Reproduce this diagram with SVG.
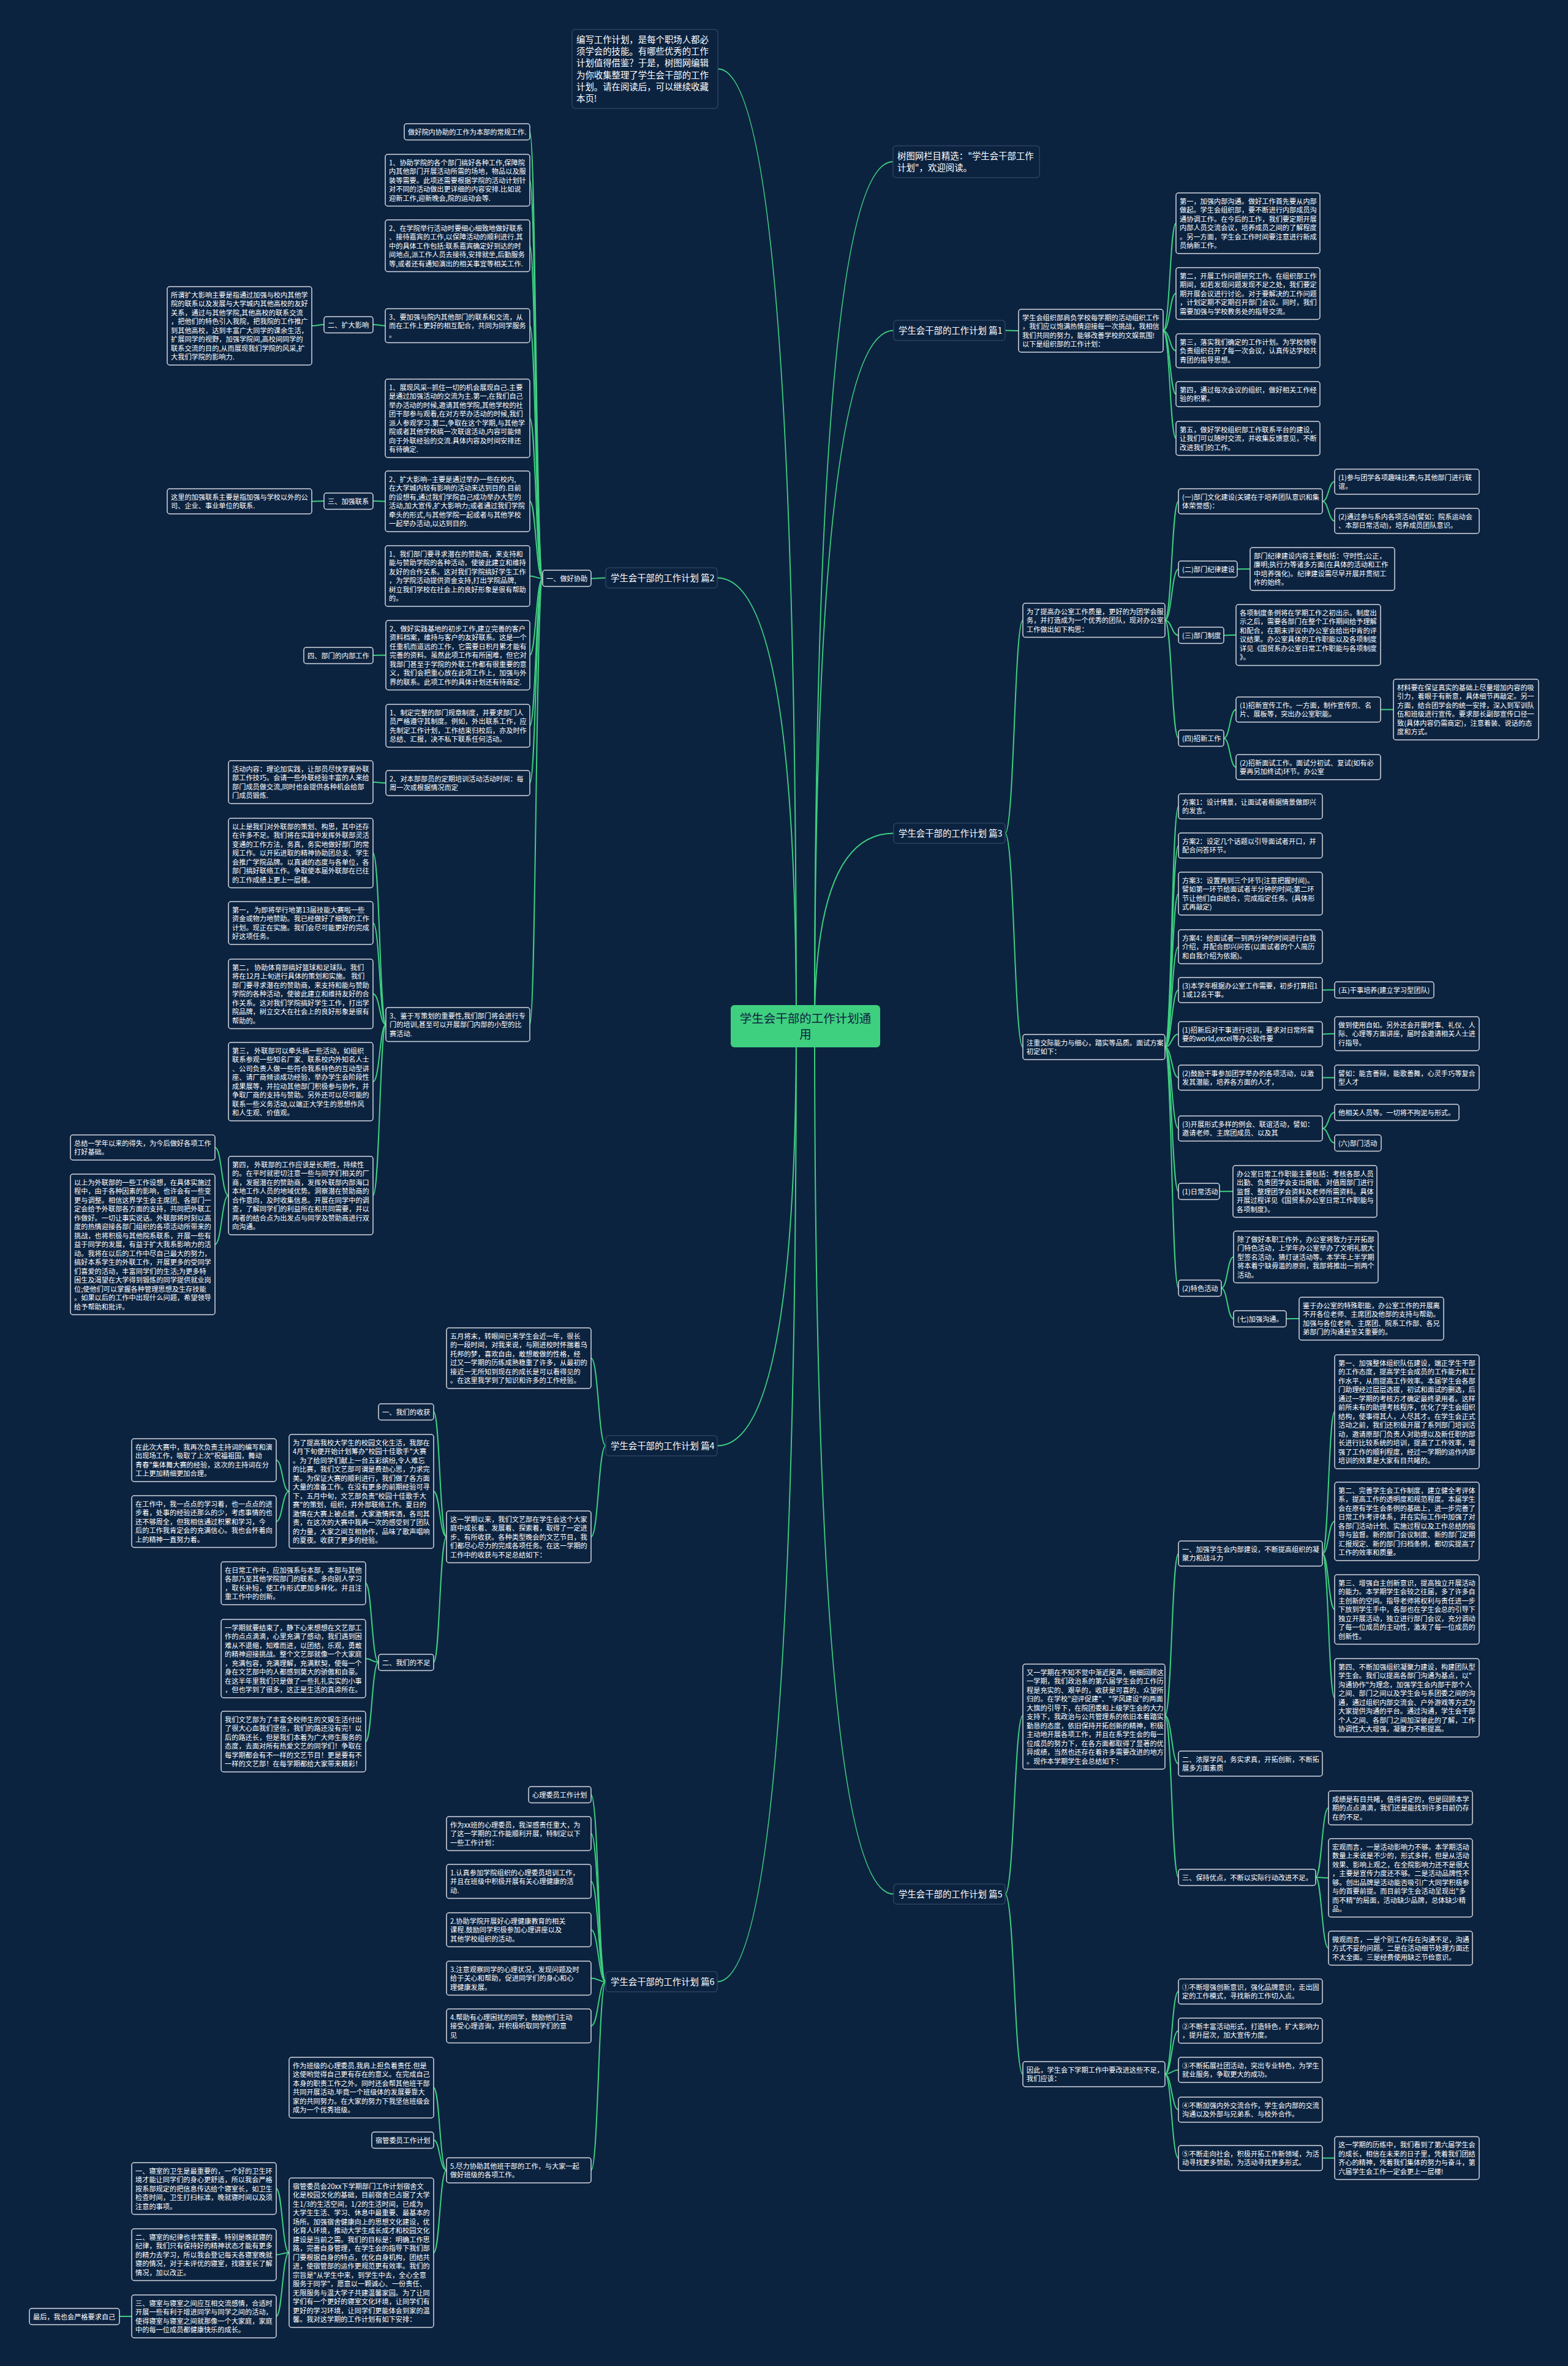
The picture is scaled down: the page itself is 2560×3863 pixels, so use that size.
<svg xmlns="http://www.w3.org/2000/svg" width="2560" height="3863" viewBox="0 0 2560 3863">
<style>
.n rect{fill:#0c2340;stroke:#d3d8df;stroke-width:1.5}
.n text{font-family:"Noto Sans CJK SC","Noto Sans",sans-serif;font-size:11.2px;fill:#ffffff}
.m rect{fill:#0c2340;stroke:#2c4260;stroke-width:1.5}
.m text{font-family:"Noto Sans CJK SC","Noto Sans",sans-serif;font-size:14.4px;fill:#ffffff}
.c path{fill:none;stroke:#3ecf7f;stroke-width:2}
</style>
<rect x="0" y="0" width="2560" height="3863" fill="#0c2340"/>
<g id="connectors" class="c">
<path d="M1300,1675 Q1300,112.5 1172,112.5"/>
<path d="M1330,1675 Q1330,264 1458,264"/>
<path d="M1330,1675 Q1330,539.5 1459,539.5"/>
<path d="M1330,1675 Q1330,1360.5 1459,1360.5"/>
<path d="M1330,1675 Q1330,3092.5 1459,3092.5"/>
<path d="M1300,1675 Q1300,943.5 1171,943.5"/>
<path d="M1300,1675 Q1300,2360.5 1171,2360.5"/>
<path d="M1300,1675 Q1300,3235.5 1171,3235.5"/>
<path d="M1641,539.5 C1652,539.5 1652,540 1663,540"/>
<path d="M1899,540 C1910,540 1910,364.5 1920,364.5"/>
<path d="M1899,540 C1910,540 1910,479 1920,479"/>
<path d="M1899,540 C1910,540 1910,572.7 1920,572.7"/>
<path d="M1899,540 C1910,540 1910,643.5 1920,643.5"/>
<path d="M1899,540 C1910,540 1910,715.7 1920,715.7"/>
<path d="M1641,1360.5 C1656,1360.5 1656,1012.7 1670,1012.7"/>
<path d="M1641,1360.5 C1656,1360.5 1656,1709.5 1670,1709.5"/>
<path d="M1902,1012.7 C1913,1012.7 1913,818.5 1924,818.5"/>
<path d="M1902,1012.7 C1913,1012.7 1913,929.2 1924,929.2"/>
<path d="M1902,1012.7 C1913,1012.7 1913,1037.2 1924,1037.2"/>
<path d="M1902,1012.7 C1913,1012.7 1913,1205.2 1924,1205.2"/>
<path d="M2159,818.5 C2169,818.5 2169,786.5 2179,786.5"/>
<path d="M2159,818.5 C2169,818.5 2169,850.5 2179,850.5"/>
<path d="M2020,929.2 C2030,929.2 2030,929 2041,929"/>
<path d="M1998,1037.2 C2008,1037.2 2008,1036.7 2018,1036.7"/>
<path d="M1998,1205.2 C2008,1205.2 2008,1158.5 2018,1158.5"/>
<path d="M1998,1205.2 C2008,1205.2 2008,1252.5 2018,1252.5"/>
<path d="M2254,1158.5 C2264,1158.5 2264,1158.5 2275,1158.5"/>
<path d="M1902,1709.5 C1913,1709.5 1913,1316.5 1924,1316.5"/>
<path d="M1902,1709.5 C1913,1709.5 1913,1380.5 1924,1380.5"/>
<path d="M1902,1709.5 C1913,1709.5 1913,1459 1924,1459"/>
<path d="M1902,1709.5 C1913,1709.5 1913,1545.7 1924,1545.7"/>
<path d="M1902,1709.5 C1913,1709.5 1913,1616.5 1924,1616.5"/>
<path d="M1902,1709.5 C1913,1709.5 1913,1688.5 1924,1688.5"/>
<path d="M1902,1709.5 C1913,1709.5 1913,1759.5 1924,1759.5"/>
<path d="M1902,1709.5 C1913,1709.5 1913,1842.5 1924,1842.5"/>
<path d="M1902,1709.5 C1913,1709.5 1913,1945.2 1924,1945.2"/>
<path d="M1902,1709.5 C1913,1709.5 1913,2103.2 1924,2103.2"/>
<path d="M2159,1616.5 C2169,1616.5 2169,1616.2 2179,1616.2"/>
<path d="M2159,1688.5 C2169,1688.5 2169,1687.7 2179,1687.7"/>
<path d="M2159,1759.5 C2169,1759.5 2169,1759.5 2179,1759.5"/>
<path d="M2159,1842.5 C2169,1842.5 2169,1816.2 2179,1816.2"/>
<path d="M2159,1842.5 C2169,1842.5 2169,1866.2 2179,1866.2"/>
<path d="M1991,1945.2 C2002,1945.2 2002,1945.2 2013,1945.2"/>
<path d="M1994,2103.2 C2004,2103.2 2004,2052.2 2014,2052.2"/>
<path d="M1994,2103.2 C2004,2103.2 2004,2153.2 2014,2153.2"/>
<path d="M2100,2153.2 C2110,2153.2 2110,2153 2121,2153"/>
<path d="M1641,3092.5 C1656,3092.5 1656,2801 1670,2801"/>
<path d="M1641,3092.5 C1656,3092.5 1656,3386.5 1670,3386.5"/>
<path d="M1902,2801 C1913,2801 1913,2536.7 1924,2536.7"/>
<path d="M1902,2801 C1913,2801 1913,2879.7 1924,2879.7"/>
<path d="M1902,2801 C1913,2801 1913,3065 1924,3065"/>
<path d="M2159,2536.7 C2169,2536.7 2169,2305 2179,2305"/>
<path d="M2159,2536.7 C2169,2536.7 2169,2484 2179,2484"/>
<path d="M2159,2536.7 C2169,2536.7 2169,2627.7 2179,2627.7"/>
<path d="M2159,2536.7 C2169,2536.7 2169,2772 2179,2772"/>
<path d="M2148,3065 C2158,3065 2158,2951.7 2169,2951.7"/>
<path d="M2148,3065 C2158,3065 2158,3066 2169,3066"/>
<path d="M2148,3065 C2158,3065 2158,3180.7 2169,3180.7"/>
<path d="M1902,3386.5 C1913,3386.5 1913,3251.5 1924,3251.5"/>
<path d="M1902,3386.5 C1913,3386.5 1913,3315.5 1924,3315.5"/>
<path d="M1902,3386.5 C1913,3386.5 1913,3379.5 1924,3379.5"/>
<path d="M1902,3386.5 C1913,3386.5 1913,3444.5 1924,3444.5"/>
<path d="M1902,3386.5 C1913,3386.5 1913,3523.5 1924,3523.5"/>
<path d="M2159,3523.5 C2169,3523.5 2169,3523.5 2179,3523.5"/>
<path d="M989,943.5 C977,943.5 977,944.5 965,944.5"/>
<path d="M886,944.5 C875,944.5 875,215 865,215"/>
<path d="M886,944.5 C875,944.5 875,294.2 865,294.2"/>
<path d="M886,944.5 C875,944.5 875,401.2 865,401.2"/>
<path d="M886,944.5 C875,944.5 875,531.7 865,531.7"/>
<path d="M886,944.5 C875,944.5 875,683 865,683"/>
<path d="M886,944.5 C875,944.5 875,818.5 865,818.5"/>
<path d="M886,944.5 C875,944.5 875,940.5 865,940.5"/>
<path d="M886,944.5 C875,944.5 875,1069.7 865,1069.7"/>
<path d="M886,944.5 C875,944.5 875,1185 865,1185"/>
<path d="M886,944.5 C875,944.5 875,1278.5 865,1278.5"/>
<path d="M886,944.5 C875,944.5 875,1673 865,1673"/>
<path d="M629,531.7 C619,531.7 619,530 609,530"/>
<path d="M529,530 C519,530 519,532 509,532"/>
<path d="M629,818.5 C619,818.5 619,818 609,818"/>
<path d="M529,818 C519,818 519,818.5 509,818.5"/>
<path d="M630,1069.7 C620,1069.7 620,1070 609,1070"/>
<path d="M630,1278.5 C620,1278.5 620,1277 609,1277"/>
<path d="M630,1673 C620,1673 620,1392.7 609,1392.7"/>
<path d="M630,1673 C620,1673 620,1507 609,1507"/>
<path d="M630,1673 C620,1673 620,1622.7 609,1622.7"/>
<path d="M630,1673 C620,1673 620,1766 609,1766"/>
<path d="M630,1673 C620,1673 620,1952 609,1952"/>
<path d="M373,1952 C362,1952 362,1873.5 351,1873.5"/>
<path d="M373,1952 C362,1952 362,2031.7 351,2031.7"/>
<path d="M989,2360.5 C977,2360.5 977,2217.5 965,2217.5"/>
<path d="M989,2360.5 C977,2360.5 977,2509.2 965,2509.2"/>
<path d="M729,2509.2 C718,2509.2 718,2305 708,2305"/>
<path d="M729,2509.2 C718,2509.2 718,2435 708,2435"/>
<path d="M729,2509.2 C718,2509.2 718,2714 708,2714"/>
<path d="M472,2435 C461,2435 461,2384 451,2384"/>
<path d="M472,2435 C461,2435 461,2484.2 451,2484.2"/>
<path d="M618,2714 C607,2714 607,2585 597,2585"/>
<path d="M618,2714 C607,2714 607,2708 597,2708"/>
<path d="M618,2714 C607,2714 607,2843.5 597,2843.5"/>
<path d="M989,3235.5 C977,3235.5 977,2930.5 965,2930.5"/>
<path d="M989,3235.5 C977,3235.5 977,2993.7 965,2993.7"/>
<path d="M989,3235.5 C977,3235.5 977,3071.7 965,3071.7"/>
<path d="M989,3235.5 C977,3235.5 977,3150.7 965,3150.7"/>
<path d="M989,3235.5 C977,3235.5 977,3229.7 965,3229.7"/>
<path d="M989,3235.5 C977,3235.5 977,3307.7 965,3307.7"/>
<path d="M989,3235.5 C977,3235.5 977,3543.5 965,3543.5"/>
<path d="M729,3543.5 C718,3543.5 718,3408.5 708,3408.5"/>
<path d="M729,3543.5 C718,3543.5 718,3494 708,3494"/>
<path d="M729,3543.5 C718,3543.5 718,3678 708,3678"/>
<path d="M472,3678 C461,3678 461,3573.2 451,3573.2"/>
<path d="M472,3678 C461,3678 461,3681.2 451,3681.2"/>
<path d="M472,3678 C461,3678 461,3782 451,3782"/>
<path d="M215,3782 C205,3782 205,3782 195,3782"/>
</g>

<g id="center"><rect x="1193" y="1641" width="244" height="69" rx="6" fill="#3ecf7f"/><text x="1315" y="1670" text-anchor="middle" font-family="'Noto Sans CJK SC',sans-serif" font-size="19.5" fill="#10233f"><tspan x="1315">学生会干部的工作计划通</tspan><tspan x="1315" dy="26">用</tspan></text></g>

<g id="intro" class="m"><rect x="934" y="48" width="238" height="129" rx="5"/><text x="941" y="70"><tspan x="941">编写工作计划，是每个职场人都必</tspan><tspan x="941" dy="19.2">须学会的技能。有哪些优秀的工作</tspan><tspan x="941" dy="19.2">计划值得借鉴？于是，树图网编辑</tspan><tspan x="941" dy="19.2">为你收集整理了学生会干部的工作</tspan><tspan x="941" dy="19.2">计划。请在阅读后，可以继续收藏</tspan><tspan x="941" dy="19.2">本页!</tspan></text></g>
<g id="shutu" class="m"><rect x="1458" y="238" width="239" height="52" rx="5"/><text x="1465" y="260"><tspan x="1465">树图网栏目精选："学生会干部工作</tspan><tspan x="1465" dy="19.2">计划"，欢迎阅读。</tspan></text></g>

<g id="p1" class="m"><rect x="1459" y="523" width="182" height="33" rx="5"/><text x="1467" y="545">学生会干部的工作计划 篇1</text></g>
<g id="p1a" class="n"><rect x="1663" y="505" width="236" height="70" rx="4"/><text x="1669" y="522.5"><tspan x="1669">学生会组织部肩负学校每学期的活动组织工作</tspan><tspan x="1669" dy="14.5">，我们应以饱满热情迎接每一次挑战，我相信</tspan><tspan x="1669" dy="14.5">我们共同的努力，能够改善学校的文娱氛围!</tspan><tspan x="1669" dy="14.5">以下是组织部的工作计划：</tspan></text></g>
<g id="p1a1" class="n"><rect x="1920" y="315" width="235" height="99" rx="4"/><text x="1926" y="332.5"><tspan x="1926">第一，加强内部沟通。做好工作首先要从内部</tspan><tspan x="1926" dy="14.5">做起。学生会组织部，要不断进行内部成员沟</tspan><tspan x="1926" dy="14.5">通协调工作。在今后的工作，我们要定期开展</tspan><tspan x="1926" dy="14.5">内部人员交流会议，培养成员之间的了解程度</tspan><tspan x="1926" dy="14.5">。另一方面，学生会工作时间要注意进行新成</tspan><tspan x="1926" dy="14.5">员纳新工作。</tspan></text></g>
<g id="p1a2" class="n"><rect x="1920" y="437" width="235" height="84.5" rx="4"/><text x="1926" y="454.5"><tspan x="1926">第二，开展工作问题研究工作。在组织部工作</tspan><tspan x="1926" dy="14.5">期间，如若发现问题发现不足之处，我们要定</tspan><tspan x="1926" dy="14.5">期开展会议进行讨论。对于要解决的工作问题</tspan><tspan x="1926" dy="14.5">，计划定期不定期召开部门会议。同时，我们</tspan><tspan x="1926" dy="14.5">需要加强与学校教务处的指导交流。</tspan></text></g>
<g id="p1a3" class="n"><rect x="1920" y="545" width="235" height="55.5" rx="4"/><text x="1926" y="562.5"><tspan x="1926">第三，落实我们确定的工作计划。为学校领导</tspan><tspan x="1926" dy="14.5">负责组织召开了每一次会议，认真传达学校共</tspan><tspan x="1926" dy="14.5">青团的指导思想。</tspan></text></g>
<g id="p1a4" class="n"><rect x="1920" y="623" width="235" height="41" rx="4"/><text x="1926" y="640.5"><tspan x="1926">第四，通过每次会议的组织，做好相关工作经</tspan><tspan x="1926" dy="14.5">验的积累。</tspan></text></g>
<g id="p1a5" class="n"><rect x="1920" y="688" width="235" height="55.5" rx="4"/><text x="1926" y="705.5"><tspan x="1926">第五，做好学校组织部工作联系平台的建设，</tspan><tspan x="1926" dy="14.5">让我们可以随时交流，并收集反馈意见，不断</tspan><tspan x="1926" dy="14.5">改进我们的工作。</tspan></text></g>

<g id="p3" class="m"><rect x="1459" y="1344" width="182" height="33" rx="5"/><text x="1467" y="1366">学生会干部的工作计划 篇3</text></g>
<g id="p3a" class="n"><rect x="1670" y="985" width="232" height="55.5" rx="4"/><text x="1676" y="1002.5"><tspan x="1676">为了提高办公室工作质量，更好的为团学会服</tspan><tspan x="1676" dy="14.5">务，并打造成为一个优秀的团队，现对办公室</tspan><tspan x="1676" dy="14.5">工作做出如下构思：</tspan></text></g>
<g id="p3a1" class="n"><rect x="1924" y="798" width="235" height="41" rx="4"/><text x="1930" y="815.5"><tspan x="1930">(一)部门文化建设(关键在于培养团队意识和集</tspan><tspan x="1930" dy="14.5">体荣誉感)：</tspan></text></g>
<g id="p3a1a" class="n"><rect x="2179" y="766" width="236" height="41" rx="4"/><text x="2185" y="783.5"><tspan x="2185">(1)参与团学各项趣味比赛;与其他部门进行联</tspan><tspan x="2185" dy="14.5">谊。</tspan></text></g>
<g id="p3a1b" class="n"><rect x="2179" y="830" width="236" height="41" rx="4"/><text x="2185" y="847.5"><tspan x="2185">(2)通过参与系内各项活动(譬如：院系运动会</tspan><tspan x="2185" dy="14.5">、本部日常活动)，培养成员团队意识。</tspan></text></g>
<g id="p3a2" class="n"><rect x="1924" y="916" width="96" height="26.5" rx="4"/><text x="1930" y="933.5">(二)部门纪律建设</text></g>
<g id="p3a2a" class="n"><rect x="2041" y="894" width="236" height="70" rx="4"/><text x="2047" y="911.5"><tspan x="2047">部门纪律建设内容主要包括：守时性;公正，</tspan><tspan x="2047" dy="14.5">廉明;执行力等诸多方面(在具体的活动和工作</tspan><tspan x="2047" dy="14.5">中培养强化)。纪律建设需尽早开展并贯彻工</tspan><tspan x="2047" dy="14.5">作的始终。</tspan></text></g>
<g id="p3a3" class="n"><rect x="1924" y="1024" width="74" height="26.5" rx="4"/><text x="1930" y="1041.5">(三)部门制度</text></g>
<g id="p3a3a" class="n"><rect x="2018" y="987" width="236" height="99.5" rx="4"/><text x="2024" y="1004.5"><tspan x="2024">各项制度条例将在学期工作之初出示。制度出</tspan><tspan x="2024" dy="14.5">示之后，需要各部门在整个工作期间给予理解</tspan><tspan x="2024" dy="14.5">和配合，在期末评议中办公室会给出中肯的评</tspan><tspan x="2024" dy="14.5">议结果。办公室具体的工作职能以及各项制度</tspan><tspan x="2024" dy="14.5">详见《国贸系办公室日常工作职能与各项制度</tspan><tspan x="2024" dy="14.5">》。</tspan></text></g>
<g id="p3a4" class="n"><rect x="1924" y="1192" width="74" height="26.5" rx="4"/><text x="1930" y="1209.5">(四)招新工作</text></g>
<g id="p3a4a" class="n"><rect x="2018" y="1138" width="236" height="41" rx="4"/><text x="2024" y="1155.5"><tspan x="2024">(1)招新宣传工作。一方面，制作宣传页、名</tspan><tspan x="2024" dy="14.5">片、展板等，突出办公室职能。</tspan></text></g>
<g id="p3a4a1" class="n"><rect x="2275" y="1109" width="237" height="99" rx="4"/><text x="2281" y="1126.5"><tspan x="2281">材料要在保证真实的基础上尽量增加内容的吸</tspan><tspan x="2281" dy="14.5">引力，着眼于有新意，具体细节再敲定。另一</tspan><tspan x="2281" dy="14.5">方面，结合团学会的统一安排，深入到军训队</tspan><tspan x="2281" dy="14.5">伍和班级进行宣传。要求部长副部宣传口径一</tspan><tspan x="2281" dy="14.5">致(具体内容仍需商定)，注意着装、说话的态</tspan><tspan x="2281" dy="14.5">度和方式。</tspan></text></g>
<g id="p3a4b" class="n"><rect x="2018" y="1232" width="236" height="41" rx="4"/><text x="2024" y="1249.5"><tspan x="2024">(2)招新面试工作。面试分初试、复试(如有必</tspan><tspan x="2024" dy="14.5">要再另加终试)环节。办公室</tspan></text></g>

<g id="p3b" class="n"><rect x="1670" y="1689" width="232" height="41" rx="4"/><text x="1676" y="1706.5"><tspan x="1676">注重交际能力与细心，踏实等品质。面试方案</tspan><tspan x="1676" dy="14.5">初定如下：</tspan></text></g>
<g id="p3b1" class="n"><rect x="1924" y="1296" width="235" height="41" rx="4"/><text x="1930" y="1313.5"><tspan x="1930">方案1：设计情景，让面试者根据情景做即兴</tspan><tspan x="1930" dy="14.5">的发言。</tspan></text></g>
<g id="p3b2" class="n"><rect x="1924" y="1360" width="235" height="41" rx="4"/><text x="1930" y="1377.5"><tspan x="1930">方案2：设定几个话题以引导面试者开口，并</tspan><tspan x="1930" dy="14.5">配合问答环节。</tspan></text></g>
<g id="p3b3" class="n"><rect x="1924" y="1424" width="235" height="70" rx="4"/><text x="1930" y="1441.5"><tspan x="1930">方案3：设置两到三个环节(注意把握时间)。</tspan><tspan x="1930" dy="14.5">譬如第一环节给面试者半分钟的时间;第二环</tspan><tspan x="1930" dy="14.5">节让他们自由结合，完成指定任务。(具体形</tspan><tspan x="1930" dy="14.5">式再敲定)</tspan></text></g>
<g id="p3b4" class="n"><rect x="1924" y="1518" width="235" height="55.5" rx="4"/><text x="1930" y="1535.5"><tspan x="1930">方案4：给面试者一到两分钟的时间进行自我</tspan><tspan x="1930" dy="14.5">介绍，并配合即兴问答(以面试者的个人简历</tspan><tspan x="1930" dy="14.5">和自我介绍为依据)。</tspan></text></g>
<g id="p3b5" class="n"><rect x="1924" y="1596" width="235" height="41" rx="4"/><text x="1930" y="1613.5"><tspan x="1930">(3)本学年根据办公室工作需要，初步打算招1</tspan><tspan x="1930" dy="14.5">1或12名干事。</tspan></text></g>
<g id="p3b5a" class="n"><rect x="2179" y="1603" width="162" height="26.5" rx="4"/><text x="2185" y="1620.5">(五)干事培养(建立学习型团队)</text></g>
<g id="p3b6" class="n"><rect x="1924" y="1668" width="235" height="41" rx="4"/><text x="1930" y="1685.5"><tspan x="1930">(1)招新后对干事进行培训，要求对日常所需</tspan><tspan x="1930" dy="14.5">要的world,excel等办公软件要</tspan></text></g>
<g id="p3b6a" class="n"><rect x="2179" y="1660" width="236" height="55.5" rx="4"/><text x="2185" y="1677.5"><tspan x="2185">做到使用自如。另外还会开展时事、礼仪、人</tspan><tspan x="2185" dy="14.5">际、心理等方面讲座，届时会邀请相关人士进</tspan><tspan x="2185" dy="14.5">行指导。</tspan></text></g>
<g id="p3b7" class="n"><rect x="1924" y="1739" width="235" height="41" rx="4"/><text x="1930" y="1756.5"><tspan x="1930">(2)鼓励干事参加团学举办的各项活动，以激</tspan><tspan x="1930" dy="14.5">发其潜能，培养各方面的人才，</tspan></text></g>
<g id="p3b7a" class="n"><rect x="2179" y="1739" width="236" height="41" rx="4"/><text x="2185" y="1756.5"><tspan x="2185">譬如：能言善辩，能歌善舞，心灵手巧等复合</tspan><tspan x="2185" dy="14.5">型人才</tspan></text></g>
<g id="p3b8" class="n"><rect x="1924" y="1822" width="235" height="41" rx="4"/><text x="1930" y="1839.5"><tspan x="1930">(3)开展形式多样的例会、联谊活动，譬如：</tspan><tspan x="1930" dy="14.5">邀请老师、主席团成员、以及其</tspan></text></g>
<g id="p3b8a" class="n"><rect x="2179" y="1803" width="203" height="26.5" rx="4"/><text x="2185" y="1820.5">他相关人员等。一切将不拘泥与形式。</text></g>
<g id="p3b8b" class="n"><rect x="2179" y="1853" width="76" height="26.5" rx="4"/><text x="2185" y="1870.5">(六)部门活动</text></g>
<g id="p3b9" class="n"><rect x="1924" y="1932" width="67" height="26.5" rx="4"/><text x="1930" y="1949.5">(1)日常活动</text></g>
<g id="p3b9a" class="n"><rect x="2013" y="1903" width="235" height="84.5" rx="4"/><text x="2019" y="1920.5"><tspan x="2019">办公室日常工作职能主要包括：考核各部人员</tspan><tspan x="2019" dy="14.5">出勤、负责团学会支出报销、对值周部门进行</tspan><tspan x="2019" dy="14.5">监督、整理团学会资料及老师所需资料。具体</tspan><tspan x="2019" dy="14.5">开展过程详见《国贸系办公室日常工作职能与</tspan><tspan x="2019" dy="14.5">各项制度》。</tspan></text></g>
<g id="p3b10" class="n"><rect x="1924" y="2090" width="70" height="26.5" rx="4"/><text x="1930" y="2107.5">(2)特色活动</text></g>
<g id="p3b10a" class="n"><rect x="2014" y="2010" width="236" height="84.5" rx="4"/><text x="2020" y="2027.5"><tspan x="2020">除了做好本职工作外，办公室将致力于开拓部</tspan><tspan x="2020" dy="14.5">门特色活动，上学年办公室举办了文明礼貌大</tspan><tspan x="2020" dy="14.5">型签名活动，猜灯谜活动等。本学年上半学期</tspan><tspan x="2020" dy="14.5">将本着宁缺毋滥的原则，我部将推出一到两个</tspan><tspan x="2020" dy="14.5">活动。</tspan></text></g>
<g id="p3b10b" class="n"><rect x="2014" y="2140" width="86" height="26.5" rx="4"/><text x="2020" y="2157.5">(七)加强沟通。</text></g>
<g id="p3b10b1" class="n"><rect x="2121" y="2118" width="236" height="70" rx="4"/><text x="2127" y="2135.5"><tspan x="2127">鉴于办公室的特殊职能，办公室工作的开展离</tspan><tspan x="2127" dy="14.5">不开各位老师、主席团及他部的支持与帮助。</tspan><tspan x="2127" dy="14.5">加强与各位老师、主席团、院系工作部、各兄</tspan><tspan x="2127" dy="14.5">弟部门的沟通是至关重要的。</tspan></text></g>

<g id="p5" class="m"><rect x="1459" y="3076" width="182" height="33" rx="5"/><text x="1467" y="3098">学生会干部的工作计划 篇5</text></g>
<g id="p5a" class="n"><rect x="1670" y="2717" width="232" height="171.5" rx="4"/><text x="1676" y="2734.5"><tspan x="1676">又一学期在不知不觉中渐近尾声，细细回顾这</tspan><tspan x="1676" dy="14.5">一学期，我们政治系的第六届学生会的工作历</tspan><tspan x="1676" dy="14.5">程是充实的、艰辛的，收获是可喜的、众望所</tspan><tspan x="1676" dy="14.5">归的。在学校"迎评促建"、"学风建设"的两面</tspan><tspan x="1676" dy="14.5">大旗的引导下，在院团委和上级学生会的大力</tspan><tspan x="1676" dy="14.5">支持下，我政治与公共管理系的依旧本着踏实</tspan><tspan x="1676" dy="14.5">勤恳的态度，依旧保持开拓创新的精神，积极</tspan><tspan x="1676" dy="14.5">主动地开展各项工作，并且在系学生会的每一</tspan><tspan x="1676" dy="14.5">位成员的努力下，在各方面都取得了显著的优</tspan><tspan x="1676" dy="14.5">异成绩，当然也还存在着许多需要改进的地方</tspan><tspan x="1676" dy="14.5">。现作本学期学生会总结如下：</tspan></text></g>
<g id="p5a1" class="n"><rect x="1924" y="2516" width="235" height="41" rx="4"/><text x="1930" y="2533.5"><tspan x="1930">一、加强学生会内部建设，不断提高组织的凝</tspan><tspan x="1930" dy="14.5">聚力和战斗力</tspan></text></g>
<g id="p5a1a" class="n"><rect x="2179" y="2212" width="236" height="186" rx="4"/><text x="2185" y="2229.5"><tspan x="2185">第一、加强整体组织队伍建设，端正学生干部</tspan><tspan x="2185" dy="14.5">的工作态度，提高学生会成员的工作能力和工</tspan><tspan x="2185" dy="14.5">作水平，从而提高工作效率。本届学生会各部</tspan><tspan x="2185" dy="14.5">门助理经过层层选拔，初试和面试的删选，后</tspan><tspan x="2185" dy="14.5">通过一学期的考核方才确定最终录用者。这样</tspan><tspan x="2185" dy="14.5">前所未有的助理考核程序，优化了学生会组织</tspan><tspan x="2185" dy="14.5">结构，使事得其人，人尽其才。在学生会正式</tspan><tspan x="2185" dy="14.5">活动之前，我们还积极开展了系列部门培训活</tspan><tspan x="2185" dy="14.5">动，邀请原部门负责人对助理以及新任职的部</tspan><tspan x="2185" dy="14.5">长进行比较系统的培训，提高了工作效率，增</tspan><tspan x="2185" dy="14.5">强了工作的顺利程度，经过一学期的运作内部</tspan><tspan x="2185" dy="14.5">培训的效果是大家有目共睹的。</tspan></text></g>
<g id="p5a1b" class="n"><rect x="2179" y="2420" width="236" height="128" rx="4"/><text x="2185" y="2437.5"><tspan x="2185">第二、完善学生会工作制度，建立健全考评体</tspan><tspan x="2185" dy="14.5">系，提高工作的透明度和规范程度。本届学生</tspan><tspan x="2185" dy="14.5">会在原有学生会条例的基础上，进一步完善了</tspan><tspan x="2185" dy="14.5">日常工作考评体系，并在实际工作中加强了对</tspan><tspan x="2185" dy="14.5">各部门活动计划、实施过程以及工作总结的指</tspan><tspan x="2185" dy="14.5">导与监督。新的部门会议制度、新的部门定期</tspan><tspan x="2185" dy="14.5">汇报规定、新的部门归档条例，都切实提高了</tspan><tspan x="2185" dy="14.5">工作的效率和质量。</tspan></text></g>
<g id="p5a1c" class="n"><rect x="2179" y="2571" width="236" height="113.5" rx="4"/><text x="2185" y="2588.5"><tspan x="2185">第三、增强自主创新意识，提高独立开展活动</tspan><tspan x="2185" dy="14.5">的能力。本学期学生会较之往届，多了许多自</tspan><tspan x="2185" dy="14.5">主创新的空间。指导老师将权利与责任进一步</tspan><tspan x="2185" dy="14.5">下放到学生手中，各部也在学生会总的引导下</tspan><tspan x="2185" dy="14.5">独立开展活动，独立进行部门会议，充分调动</tspan><tspan x="2185" dy="14.5">了每一位成员的主动性，激发了每一位成员的</tspan><tspan x="2185" dy="14.5">创新性。</tspan></text></g>
<g id="p5a1d" class="n"><rect x="2179" y="2708" width="236" height="128" rx="4"/><text x="2185" y="2725.5"><tspan x="2185">第四、不断加强组织凝聚力建设，构建团队型</tspan><tspan x="2185" dy="14.5">学生会。我们以提高各部门沟通为基点，以"</tspan><tspan x="2185" dy="14.5">沟通协作"为理念，加强学生会内部干部个人</tspan><tspan x="2185" dy="14.5">之间、部门之间以及学生会与系团委之间的沟</tspan><tspan x="2185" dy="14.5">通，通过组织内部交流会、户外游戏等方式为</tspan><tspan x="2185" dy="14.5">大家提供沟通的平台。通过沟通，学生会干部</tspan><tspan x="2185" dy="14.5">个人之间、各部门之间加深彼此的了解，工作</tspan><tspan x="2185" dy="14.5">协调性大大增强，凝聚力不断提高。</tspan></text></g>
<g id="p5a2" class="n"><rect x="1924" y="2859" width="235" height="41" rx="4"/><text x="1930" y="2876.5"><tspan x="1930">二、浓厚学风，务实求真，开拓创新，不断拓</tspan><tspan x="1930" dy="14.5">展多方面素质</tspan></text></g>
<g id="p5a3" class="n"><rect x="1924" y="3052" width="224" height="26.5" rx="4"/><text x="1930" y="3069.5">三、保持优点，不断以实际行动改进不足。</text></g>
<g id="p5a3a" class="n"><rect x="2169" y="2924" width="235" height="55.5" rx="4"/><text x="2175" y="2941.5"><tspan x="2175">成绩是有目共睹，值得肯定的，但是回顾本学</tspan><tspan x="2175" dy="14.5">期的点点滴滴，我们还是能找到许多目前仍存</tspan><tspan x="2175" dy="14.5">在的不足。</tspan></text></g>
<g id="p5a3b" class="n"><rect x="2169" y="3002" width="235" height="128" rx="4"/><text x="2175" y="3019.5"><tspan x="2175">宏观而言，一是活动影响力不够。本学期活动</tspan><tspan x="2175" dy="14.5">数量上来说是不少的，形式多样，但是从活动</tspan><tspan x="2175" dy="14.5">效果、影响上观之，在全院影响力还不是很大</tspan><tspan x="2175" dy="14.5">，主要是宣传力度还不够。二是活动品牌性不</tspan><tspan x="2175" dy="14.5">够。创出品牌是活动能否吸引广大同学积极参</tspan><tspan x="2175" dy="14.5">与的首要前提。而目前学生会活动呈现出"多</tspan><tspan x="2175" dy="14.5">而不精"的局面，活动缺少品牌，总体缺少精</tspan><tspan x="2175" dy="14.5">品。</tspan></text></g>
<g id="p5a3c" class="n"><rect x="2169" y="3153" width="235" height="55.5" rx="4"/><text x="2175" y="3170.5"><tspan x="2175">微观而言，一是个别工作存在沟通不足，沟通</tspan><tspan x="2175" dy="14.5">方式不妥的问题。二是在活动细节处理方面还</tspan><tspan x="2175" dy="14.5">不太全面。三是经费使用缺乏节俭意识。</tspan></text></g>
<g id="p5b" class="n"><rect x="1670" y="3366" width="232" height="41" rx="4"/><text x="1676" y="3383.5"><tspan x="1676">因此，学生会下学期工作中要改进这些不足，</tspan><tspan x="1676" dy="14.5">我们应该：</tspan></text></g>
<g id="p5b1" class="n"><rect x="1924" y="3231" width="235" height="41" rx="4"/><text x="1930" y="3248.5"><tspan x="1930">①不断增强创新意识，强化品牌意识，走出固</tspan><tspan x="1930" dy="14.5">定的工作模式，寻找新的工作切入点。</tspan></text></g>
<g id="p5b2" class="n"><rect x="1924" y="3295" width="235" height="41" rx="4"/><text x="1930" y="3312.5"><tspan x="1930">②不断丰富活动形式，打造特色，扩大影响力</tspan><tspan x="1930" dy="14.5">，提升层次，加大宣传力度。</tspan></text></g>
<g id="p5b3" class="n"><rect x="1924" y="3359" width="235" height="41" rx="4"/><text x="1930" y="3376.5"><tspan x="1930">③不断拓展社团活动，突出专业特色，为学生</tspan><tspan x="1930" dy="14.5">就业服务，争取更大的成功。</tspan></text></g>
<g id="p5b4" class="n"><rect x="1924" y="3424" width="235" height="41" rx="4"/><text x="1930" y="3441.5"><tspan x="1930">④不断加强内外交流合作，学生会内部的交流</tspan><tspan x="1930" dy="14.5">沟通以及外部与兄弟系、与校外合作。</tspan></text></g>
<g id="p5b5" class="n"><rect x="1924" y="3503" width="235" height="41" rx="4"/><text x="1930" y="3520.5"><tspan x="1930">⑤不断走向社会，积极开拓工作新领域，为活</tspan><tspan x="1930" dy="14.5">动寻找更多赞助，为活动寻找更多形式。</tspan></text></g>
<g id="p5b5a" class="n"><rect x="2179" y="3488.5" width="236" height="70" rx="4"/><text x="2185" y="3506"><tspan x="2185">这一学期的历练中，我们看到了第六届学生会</tspan><tspan x="2185" dy="14.5">的成长，相信在未来的日子里，凭着我们团结</tspan><tspan x="2185" dy="14.5">齐心的精神，凭着我们集体的努力与奋斗，第</tspan><tspan x="2185" dy="14.5">六届学生会工作一定会更上一层楼!</tspan></text></g>

<g id="p2" class="m"><rect x="989" y="927" width="182" height="33" rx="5"/><text x="997" y="949">学生会干部的工作计划 篇2</text></g>
<g id="p2a" class="n"><rect x="886" y="931" width="79" height="26.5" rx="4"/><text x="892" y="948.5">一、做好协助</text></g>
<g id="p2a1" class="n"><rect x="660" y="202" width="205" height="26.5" rx="4"/><text x="666" y="219.5">做好院内协助的工作为本部的常规工作.</text></g>
<g id="p2a2" class="n"><rect x="629" y="252" width="236" height="84.5" rx="4"/><text x="635" y="269.5"><tspan x="635">1、协助学院的各个部门搞好各种工作,保障院</tspan><tspan x="635" dy="14.5">内其他部门开展活动所需的场地，物品以及服</tspan><tspan x="635" dy="14.5">装等需要。此项还需要根据学院的活动计划针</tspan><tspan x="635" dy="14.5">对不同的活动做出更详细的内容安排.比如说</tspan><tspan x="635" dy="14.5">迎新工作,迎新晚会,院的运动会等.</tspan></text></g>
<g id="p2a3" class="n"><rect x="629" y="359" width="236" height="84.5" rx="4"/><text x="635" y="376.5"><tspan x="635">2、在学院举行活动时要细心细致地做好联系</tspan><tspan x="635" dy="14.5">、接待嘉宾的工作,以保障活动的顺利进行.其</tspan><tspan x="635" dy="14.5">中的具体工作包括:联系嘉宾确定好到达的时</tspan><tspan x="635" dy="14.5">间地点,派工作人员去接待,安排就坐,后勤服务</tspan><tspan x="635" dy="14.5">等,或者还有通知演出的相关事宜等相关工作.</tspan></text></g>
<g id="p2a4" class="n"><rect x="629" y="504" width="236" height="55.5" rx="4"/><text x="635" y="521.5"><tspan x="635">3、要加强与院内其他部门的联系和交流，从</tspan><tspan x="635" dy="14.5">而在工作上更好的相互配合，共同为同学服务</tspan><tspan x="635" dy="14.5">。</tspan></text></g>
<g id="p2a4a" class="n"><rect x="529" y="517" width="80" height="26.5" rx="4"/><text x="535" y="534.5">二、扩大影响</text></g>
<g id="p2a4a1" class="n"><rect x="273" y="468" width="236" height="128" rx="4"/><text x="279" y="485.5"><tspan x="279">所谓扩大影响主要是指通过加强与校内其他学</tspan><tspan x="279" dy="14.5">院的联系以及发展与大学城内其他高校的友好</tspan><tspan x="279" dy="14.5">关系，通过与其他学院,其他高校的联系交流</tspan><tspan x="279" dy="14.5">，把他们的特色引入我院，把我院的工作推广</tspan><tspan x="279" dy="14.5">到其他高校，达到丰富广大同学的课余生活，</tspan><tspan x="279" dy="14.5">扩展同学的视野，加强学院间,高校间同学的</tspan><tspan x="279" dy="14.5">联系交流的目的,从而展现我们学院的风采,扩</tspan><tspan x="279" dy="14.5">大我们学院的影响力.</tspan></text></g>
<g id="p2a5" class="n"><rect x="629" y="619" width="236" height="128" rx="4"/><text x="635" y="636.5"><tspan x="635">1、展现风采--抓住一切的机会展现自己.主要</tspan><tspan x="635" dy="14.5">是通过加强活动的交流为主.第一,在我们自己</tspan><tspan x="635" dy="14.5">举办活动的时候,邀请其他学院,其他学校的社</tspan><tspan x="635" dy="14.5">团干部参与观看,在对方举办活动的时候,我们</tspan><tspan x="635" dy="14.5">派人参观学习.第二,争取在这个学期,与其他学</tspan><tspan x="635" dy="14.5">院或者其他学校搞一次联谊活动,内容可能倾</tspan><tspan x="635" dy="14.5">向于外联经验的交流.具体内容及时间安排还</tspan><tspan x="635" dy="14.5">有待确定.</tspan></text></g>
<g id="p2a6" class="n"><rect x="629" y="769" width="236" height="99" rx="4"/><text x="635" y="786.5"><tspan x="635">2、扩大影响--主要是通过举办一些在校内,</tspan><tspan x="635" dy="14.5">在大学城内较有影响的活动来达到目的.目前</tspan><tspan x="635" dy="14.5">的设想有,通过我们学院自己成功举办大型的</tspan><tspan x="635" dy="14.5">活动,加大宣传,扩大影响力;或者通过我们学院</tspan><tspan x="635" dy="14.5">牵头的形式,与其他学院一起或者与其他学校</tspan><tspan x="635" dy="14.5">一起举办活动,以达到目的.</tspan></text></g>
<g id="p2a6a" class="n"><rect x="529" y="805" width="80" height="26.5" rx="4"/><text x="535" y="822.5">三、加强联系</text></g>
<g id="p2a6a1" class="n"><rect x="273" y="798" width="236" height="41" rx="4"/><text x="279" y="815.5"><tspan x="279">这里的加强联系主要是指加强与学校以外的公</tspan><tspan x="279" dy="14.5">司、企业、事业单位的联系.</tspan></text></g>
<g id="p2a7" class="n"><rect x="629" y="891" width="236" height="99" rx="4"/><text x="635" y="908.5"><tspan x="635">1、我们部门要寻求潜在的赞助商，来支持和</tspan><tspan x="635" dy="14.5">能与赞助学院的各种活动，使彼此建立和维持</tspan><tspan x="635" dy="14.5">友好的合作关系。这对我们学院搞好学生工作</tspan><tspan x="635" dy="14.5">，为学院活动提供资金支持,打出学院品牌,</tspan><tspan x="635" dy="14.5">树立我们学校在社会上的良好形象是很有帮助</tspan><tspan x="635" dy="14.5">的。</tspan></text></g>
<g id="p2a8" class="n"><rect x="630" y="1013" width="235" height="113.5" rx="4"/><text x="636" y="1030.5"><tspan x="636">2、做好实践基地的初步工作,建立完善的客户</tspan><tspan x="636" dy="14.5">资料档案，维持与客户的友好联系。这是一个</tspan><tspan x="636" dy="14.5">任重机而道远的工作，它需要日积月累才能有</tspan><tspan x="636" dy="14.5">完善的资料。虽然此项工作有所困难，但它对</tspan><tspan x="636" dy="14.5">我部门甚至于学院的外联工作都有很重要的意</tspan><tspan x="636" dy="14.5">义，我们会把重心放在此项工作上，加强与外</tspan><tspan x="636" dy="14.5">界的联系。此项工作的具体计划还有待商定.</tspan></text></g>
<g id="p2a8a" class="n"><rect x="496" y="1057" width="113" height="26.5" rx="4"/><text x="502" y="1074.5">四、部门的内部工作</text></g>
<g id="p2a9" class="n"><rect x="630" y="1150" width="235" height="70" rx="4"/><text x="636" y="1167.5"><tspan x="636">1、制定完整的部门规章制度，并要求部门人</tspan><tspan x="636" dy="14.5">员严格遵守其制度。例如，外出联系工作，应</tspan><tspan x="636" dy="14.5">先制定工作计划，工作结束归校后，亦及时作</tspan><tspan x="636" dy="14.5">总结、汇报，决不私下联系任何活动。</tspan></text></g>
<g id="p2a10" class="n"><rect x="630" y="1258" width="235" height="41" rx="4"/><text x="636" y="1275.5"><tspan x="636">2、对本部部员的定期培训活动活动时间：每</tspan><tspan x="636" dy="14.5">周一次或根据情况而定</tspan></text></g>
<g id="p2a10a" class="n"><rect x="373" y="1242" width="236" height="70" rx="4"/><text x="379" y="1259.5"><tspan x="379">活动内容：理论加实践，让部员尽快掌握外联</tspan><tspan x="379" dy="14.5">部工作技巧。会请一些外联经验丰富的人来给</tspan><tspan x="379" dy="14.5">部门成员做交流,同时也会提供各种机会给部</tspan><tspan x="379" dy="14.5">门成员锻炼.</tspan></text></g>
<g id="p2a11" class="n"><rect x="630" y="1645" width="235" height="55.5" rx="4"/><text x="636" y="1662.5"><tspan x="636">3、鉴于写策划的重要性,我们部门将会进行专</tspan><tspan x="636" dy="14.5">门的培训,甚至可以开展部门内部的小型的比</tspan><tspan x="636" dy="14.5">赛活动.</tspan></text></g>
<g id="p2a11a" class="n"><rect x="373" y="1336" width="236" height="113.5" rx="4"/><text x="379" y="1353.5"><tspan x="379">以上是我们对外联部的策划、构思，其中还存</tspan><tspan x="379" dy="14.5">在许多不足。我们将在实践中发挥外联部灵活</tspan><tspan x="379" dy="14.5">变通的工作方法，务真，务实地做好部门的常</tspan><tspan x="379" dy="14.5">规工作。以开拓进取的精神协助团总支、学生</tspan><tspan x="379" dy="14.5">会推广学院品牌。以真诚的态度与各单位，各</tspan><tspan x="379" dy="14.5">部门搞好联络工作。争取使本届外联部在已往</tspan><tspan x="379" dy="14.5">的工作成绩上更上一层楼。</tspan></text></g>
<g id="p2a11b" class="n"><rect x="373" y="1472" width="236" height="70" rx="4"/><text x="379" y="1489.5"><tspan x="379">第一， 为即将举行地第13届技能大赛啦一些</tspan><tspan x="379" dy="14.5">资金或物力地赞助。我已经做好了细致的工作</tspan><tspan x="379" dy="14.5">计划。现正在实施。我们会尽可能更好的完成</tspan><tspan x="379" dy="14.5">好这项任务。</tspan></text></g>
<g id="p2a11c" class="n"><rect x="373" y="1566" width="236" height="113.5" rx="4"/><text x="379" y="1583.5"><tspan x="379">第二， 协助体育部搞好篮球和足球队。我们</tspan><tspan x="379" dy="14.5">将在12月上旬进行具体的策划和实施。 我们</tspan><tspan x="379" dy="14.5">部门要寻求潜在的赞助商，来支持和能与赞助</tspan><tspan x="379" dy="14.5">学院的各种活动，使彼此建立和维持友好的合</tspan><tspan x="379" dy="14.5">作关系。这对我们学院搞好学生工作，打出学</tspan><tspan x="379" dy="14.5">院品牌，树立交大在社会上的良好形象是很有</tspan><tspan x="379" dy="14.5">帮助的。</tspan></text></g>
<g id="p2a11d" class="n"><rect x="373" y="1702" width="236" height="128" rx="4"/><text x="379" y="1719.5"><tspan x="379">第三， 外联部可以牵头搞一些活动，如组织</tspan><tspan x="379" dy="14.5">联系参观一些知名厂家、联系校内外知名人士</tspan><tspan x="379" dy="14.5">、公司负责人做一些符合我系特色的互动型讲</tspan><tspan x="379" dy="14.5">座、请厂商倾谈成功经验，举办学生会阶段性</tspan><tspan x="379" dy="14.5">成果展等，并拉动其他部门积极参与协作，并</tspan><tspan x="379" dy="14.5">争取厂商的支持与赞助。另外还可以尽可能的</tspan><tspan x="379" dy="14.5">联系一些义务活动,以端正大学生的思想作风</tspan><tspan x="379" dy="14.5">和人生观、价值观。</tspan></text></g>
<g id="p2a11e" class="n"><rect x="373" y="1888" width="236" height="128" rx="4"/><text x="379" y="1905.5"><tspan x="379">第四， 外联部的工作应该是长期性，持续性</tspan><tspan x="379" dy="14.5">的。在平时就密切注意一些与同学们相关的厂</tspan><tspan x="379" dy="14.5">商，发掘潜在的赞助商，发挥外联部内部海口</tspan><tspan x="379" dy="14.5">本地工作人员的地域优势。洞察潜在赞助商的</tspan><tspan x="379" dy="14.5">合作意向，及时收集信息。开展在同学中的调</tspan><tspan x="379" dy="14.5">查，了解同学们的利益所在和共同需要，并以</tspan><tspan x="379" dy="14.5">两者的结合点为出发点与同学及赞助商进行双</tspan><tspan x="379" dy="14.5">向沟通。</tspan></text></g>
<g id="p2a11e1" class="n"><rect x="115" y="1853" width="236" height="41" rx="4"/><text x="121" y="1870.5"><tspan x="121">总结一学年以来的得失，为今后做好各项工作</tspan><tspan x="121" dy="14.5">打好基础。</tspan></text></g>
<g id="p2a11e2" class="n"><rect x="115" y="1917" width="236" height="229.5" rx="4"/><text x="121" y="1934.5"><tspan x="121">以上为外联部的一些工作设想，在具体实施过</tspan><tspan x="121" dy="14.5">程中，由于各种因素的影响，也许会有一些变</tspan><tspan x="121" dy="14.5">更与调整。相信这界学生会主席团、各部门一</tspan><tspan x="121" dy="14.5">定会给予外联部各方面的支持，共同把外联工</tspan><tspan x="121" dy="14.5">作做好。一切让事实说话。外联部将时刻以高</tspan><tspan x="121" dy="14.5">度的热情迎接各部门组织的各项活动所带来的</tspan><tspan x="121" dy="14.5">挑战，也将积极与其他院系联系，开展一些有</tspan><tspan x="121" dy="14.5">益于同学的发展，有益于扩大我系影响力的活</tspan><tspan x="121" dy="14.5">动。我将在以后的工作中尽自己最大的努力，</tspan><tspan x="121" dy="14.5">搞好本系学生的外联工作，开展更多的受同学</tspan><tspan x="121" dy="14.5">们喜爱的活动，丰富同学们的生活;为更多特</tspan><tspan x="121" dy="14.5">困生及渴望在大学得到锻炼的同学提供就业岗</tspan><tspan x="121" dy="14.5">位;使他们可以掌握各种管理思想及生存技能</tspan><tspan x="121" dy="14.5">。如果以后的工作中出现什么问题，希望领导</tspan><tspan x="121" dy="14.5">给予帮助和批评。</tspan></text></g>

<g id="p4" class="m"><rect x="989" y="2344" width="182" height="33" rx="5"/><text x="997" y="2366">学生会干部的工作计划 篇4</text></g>
<g id="p4a" class="n"><rect x="729" y="2168" width="236" height="99" rx="4"/><text x="735" y="2185.5"><tspan x="735">五月将末，转眼间已来学生会近一年，很长</tspan><tspan x="735" dy="14.5">的一段时间，对我来说，与刚进校时怀揣着乌</tspan><tspan x="735" dy="14.5">托邦的梦，喜欢自由，敢想敢做的性格，经</tspan><tspan x="735" dy="14.5">过又一学期的历练成熟稳重了许多，从最初的</tspan><tspan x="735" dy="14.5">接近一无所知到现在的成长是可以看得见的</tspan><tspan x="735" dy="14.5">。在这里我学到了知识和许多的工作经验。</tspan></text></g>
<g id="p4b" class="n"><rect x="729" y="2467" width="236" height="84.5" rx="4"/><text x="735" y="2484.5"><tspan x="735">这一学期以来，我们文艺部在学生会这个大家</tspan><tspan x="735" dy="14.5">庭中成长着、发展着、探索着，取得了一定进</tspan><tspan x="735" dy="14.5">步、有所收获。各种类型晚会的文艺节目，我</tspan><tspan x="735" dy="14.5">们都尽心尽力的完成各项任务。在这一学期的</tspan><tspan x="735" dy="14.5">工作中的收获与不足总结如下：</tspan></text></g>
<g id="p4b1" class="n"><rect x="618" y="2292" width="90" height="26.5" rx="4"/><text x="624" y="2309.5">一、我们的收获</text></g>
<g id="p4b2" class="n"><rect x="472" y="2342" width="236" height="186" rx="4"/><text x="478" y="2359.5"><tspan x="478">为了提高我校大学生的校园文化生活，我部在</tspan><tspan x="478" dy="14.5">4月下旬便开始计划筹办"校园十佳歌手"大赛</tspan><tspan x="478" dy="14.5">。为了给同学们献上一台五彩缤纷,令人难忘</tspan><tspan x="478" dy="14.5">的比赛，我们文艺部可谓是费劲心思，力求完</tspan><tspan x="478" dy="14.5">美。为保证大赛的顺利进行，我们做了各方面</tspan><tspan x="478" dy="14.5">大量的准备工作。在没有更多的前期经验可寻</tspan><tspan x="478" dy="14.5">下，五月中旬，文艺部负责"校园十佳歌手大</tspan><tspan x="478" dy="14.5">赛"的策划，组织，并外部联络工作。夏日的</tspan><tspan x="478" dy="14.5">激情在大赛上被点燃，大家激情挥洒，各司其</tspan><tspan x="478" dy="14.5">责，在这次的大赛中我再一次的感受到了团队</tspan><tspan x="478" dy="14.5">的力量，大家之间互相协作，品味了歌声唱响</tspan><tspan x="478" dy="14.5">的夏夜。收获了更多的经验。</tspan></text></g>
<g id="p4b2a" class="n"><rect x="215" y="2349" width="236" height="70" rx="4"/><text x="221" y="2366.5"><tspan x="221">在此次大赛中，我再次负责主持词的编写和演</tspan><tspan x="221" dy="14.5">出现场工作，吸取了上次"祝福祖国，舞动</tspan><tspan x="221" dy="14.5">青春"集体舞大赛的经验，这次的主持词在分</tspan><tspan x="221" dy="14.5">工上更加精细更加合理。</tspan></text></g>
<g id="p4b2b" class="n"><rect x="215" y="2442" width="236" height="84.5" rx="4"/><text x="221" y="2459.5"><tspan x="221">在工作中，我一点点的学习着，也一点点的进</tspan><tspan x="221" dy="14.5">步着，处事的经验还那么的少，考虑事情的也</tspan><tspan x="221" dy="14.5">还不够周全，但我相信通过积累和学习，今</tspan><tspan x="221" dy="14.5">后的工作我肯定会的充满信心。我也会怀着向</tspan><tspan x="221" dy="14.5">上的精神一直努力着。</tspan></text></g>
<g id="p4b3" class="n"><rect x="618" y="2701" width="90" height="26.5" rx="4"/><text x="624" y="2718.5">二、我们的不足</text></g>
<g id="p4b3a" class="n"><rect x="361" y="2550" width="236" height="70" rx="4"/><text x="367" y="2567.5"><tspan x="367">在日常工作中，应加强系与本部，本部与其他</tspan><tspan x="367" dy="14.5">各部乃至其他学院部门的联系。多向别人学习</tspan><tspan x="367" dy="14.5">，取长补短，使工作形式更加多样化。并且注</tspan><tspan x="367" dy="14.5">重工作中的创新。</tspan></text></g>
<g id="p4b3b" class="n"><rect x="361" y="2644" width="236" height="128" rx="4"/><text x="367" y="2661.5"><tspan x="367">一学期就要结束了，静下心来想想在文艺部工</tspan><tspan x="367" dy="14.5">作的点点滴滴，心里充满了感动，我们遇到困</tspan><tspan x="367" dy="14.5">难从不退缩，知难而进，以团结，乐观，勇敢</tspan><tspan x="367" dy="14.5">的精神迎接挑战。整个文艺部就像一个大家庭</tspan><tspan x="367" dy="14.5">，充满包容，充满理解，充满默契，使每一个</tspan><tspan x="367" dy="14.5">身在文艺部中的人都感到莫大的骄傲和自豪。</tspan><tspan x="367" dy="14.5">在这半年里我们只是做了一些扎扎实实的小事</tspan><tspan x="367" dy="14.5">，但也学到了很多，这正是生活的真谛所在。</tspan></text></g>
<g id="p4b3c" class="n"><rect x="361" y="2794" width="236" height="99" rx="4"/><text x="367" y="2811.5"><tspan x="367">我们文艺部为了丰富全校师生的文娱生活付出</tspan><tspan x="367" dy="14.5">了很大心血我们坚信，我们的路还没有完！以</tspan><tspan x="367" dy="14.5">后的路还长，但是我们本着为广大师生服务的</tspan><tspan x="367" dy="14.5">态度，去面对所有热爱文艺的同学们！争取在</tspan><tspan x="367" dy="14.5">每学期都会有不一样的文艺节目！更是要有不</tspan><tspan x="367" dy="14.5">一样的文艺部！在每学期都给大家带来精彩！</tspan></text></g>

<g id="p6" class="m"><rect x="989" y="3219" width="182" height="33" rx="5"/><text x="997" y="3241">学生会干部的工作计划 篇6</text></g>
<g id="p6a" class="n"><rect x="863" y="2917" width="102" height="26.5" rx="4"/><text x="869" y="2934.5">心理委员工作计划</text></g>
<g id="p6b" class="n"><rect x="729" y="2966" width="236" height="55.5" rx="4"/><text x="735" y="2983.5"><tspan x="735">作为xx班的心理委员，我深感责任重大，为</tspan><tspan x="735" dy="14.5">了这一学期的工作能顺利开展，特制定以下</tspan><tspan x="735" dy="14.5">一些工作计划：</tspan></text></g>
<g id="p6c" class="n"><rect x="729" y="3044" width="236" height="55.5" rx="4"/><text x="735" y="3061.5"><tspan x="735">1.认真参加学院组织的心理委员培训工作，</tspan><tspan x="735" dy="14.5">并且在班级中积极开展有关心理健康的活</tspan><tspan x="735" dy="14.5">动.</tspan></text></g>
<g id="p6d" class="n"><rect x="729" y="3123" width="236" height="55.5" rx="4"/><text x="735" y="3140.5"><tspan x="735">2.协助学院开展好心理健康教育的相关</tspan><tspan x="735" dy="14.5">课程.鼓励同学积极参加心理讲座以及</tspan><tspan x="735" dy="14.5">其他学校组织的活动。</tspan></text></g>
<g id="p6e" class="n"><rect x="729" y="3202" width="236" height="55.5" rx="4"/><text x="735" y="3219.5"><tspan x="735">3.注意观察同学的心理状况，发现问题及时</tspan><tspan x="735" dy="14.5">给于关心和帮助，促进同学们的身心和心</tspan><tspan x="735" dy="14.5">理健康发展。</tspan></text></g>
<g id="p6f" class="n"><rect x="729" y="3280" width="236" height="55.5" rx="4"/><text x="735" y="3297.5"><tspan x="735">4.帮助有心理困扰的同学，鼓励他们主动</tspan><tspan x="735" dy="14.5">接受心理咨询，并积极听取同学们的意</tspan><tspan x="735" dy="14.5">见</tspan></text></g>
<g id="p6g" class="n"><rect x="729" y="3523" width="236" height="41" rx="4"/><text x="735" y="3540.5"><tspan x="735">5.尽力协助其他班干部的工作，与大家一起</tspan><tspan x="735" dy="14.5">做好班级的各项工作。</tspan></text></g>
<g id="p6g1" class="n"><rect x="472" y="3359" width="236" height="99" rx="4"/><text x="478" y="3376.5"><tspan x="478">作为班级的心理委员.我肩上担负着责任.但是</tspan><tspan x="478" dy="14.5">这使哟觉得自己更有存在的意义。在完成自己</tspan><tspan x="478" dy="14.5">本身的职责工作之外。同时还会帮其他班干部</tspan><tspan x="478" dy="14.5">共同开展活动.毕竟一个班级体的发展要靠大</tspan><tspan x="478" dy="14.5">家的共同努力。在大家的努力下我坚信班级会</tspan><tspan x="478" dy="14.5">成为一个优秀班级。</tspan></text></g>
<g id="p6g2" class="n"><rect x="607" y="3481" width="101" height="26.5" rx="4"/><text x="613" y="3498.5">宿管委员工作计划</text></g>
<g id="p6g3" class="n"><rect x="472" y="3556" width="236" height="244" rx="4"/><text x="478" y="3573.5"><tspan x="478">宿管委员会20xx下学期部门工作计划宿舍文</tspan><tspan x="478" dy="14.5">化是校园文化的基础，目前宿舍已占据了大学</tspan><tspan x="478" dy="14.5">生1/3的生活空间，1/2的生活时间，已成为</tspan><tspan x="478" dy="14.5">大学生生活、学习、休息中最重要、最基本的</tspan><tspan x="478" dy="14.5">场所。加强宿舍健康向上的思想文化建设，优</tspan><tspan x="478" dy="14.5">化育人环境，推动大学生成长成才和校园文化</tspan><tspan x="478" dy="14.5">建设是当前之需。我们的目标是：明确工作思</tspan><tspan x="478" dy="14.5">路，完善自身管理，在学生会的指导下我们部</tspan><tspan x="478" dy="14.5">门要根据自身的特点，优化自身机构，团结共</tspan><tspan x="478" dy="14.5">进，使宿管部的运作更规范更有效率。我们的</tspan><tspan x="478" dy="14.5">宗旨是"从学生中来，到学生中去，全心全意</tspan><tspan x="478" dy="14.5">服务于同学"，愿意以一颗诚心、一份责任、</tspan><tspan x="478" dy="14.5">无限服务与温大学子共建温馨家园。为了让同</tspan><tspan x="478" dy="14.5">学们有一个更好的寝室文化环境，让同学们有</tspan><tspan x="478" dy="14.5">更好的学习环境，让同学们更能体会到家的温</tspan><tspan x="478" dy="14.5">馨。我对这学期的工作计划有如下安排：</tspan></text></g>
<g id="p6g3a" class="n"><rect x="215" y="3531" width="236" height="84.5" rx="4"/><text x="221" y="3548.5"><tspan x="221">一、寝室的卫生是最重要的，一个好的卫生环</tspan><tspan x="221" dy="14.5">境才能让同学们的身心更舒适，所以我会严格</tspan><tspan x="221" dy="14.5">按系部规定的把信息传达给个寝室长，如卫生</tspan><tspan x="221" dy="14.5">检查时间，卫生打扫标准，晚就寝时间以及须</tspan><tspan x="221" dy="14.5">注意的事项。</tspan></text></g>
<g id="p6g3b" class="n"><rect x="215" y="3639" width="236" height="84.5" rx="4"/><text x="221" y="3656.5"><tspan x="221">二、寝室的纪律也非常重要。特别是晚就寝的</tspan><tspan x="221" dy="14.5">纪律，我们只有保持好的精神状态才能有更多</tspan><tspan x="221" dy="14.5">的精力去学习，所以我会登记每天各寝室晚就</tspan><tspan x="221" dy="14.5">寝的情况，对于未评优的寝室，找寝室长了解</tspan><tspan x="221" dy="14.5">情况，加以改正。</tspan></text></g>
<g id="p6g3c" class="n"><rect x="215" y="3747" width="236" height="70" rx="4"/><text x="221" y="3764.5"><tspan x="221">三、寝室与寝室之间应互相交流感情，合适时</tspan><tspan x="221" dy="14.5">开展一些有利于增进同学与同学之间的活动，</tspan><tspan x="221" dy="14.5">使得寝室与寝室之间就那像一个大家庭，家庭</tspan><tspan x="221" dy="14.5">中的每一位成员都健康快乐的成长。</tspan></text></g>
<g id="p6g3c1" class="n"><rect x="48" y="3769" width="147" height="26.5" rx="4"/><text x="54" y="3786.5">最后，我也会严格要求自己</text></g>
</svg>
